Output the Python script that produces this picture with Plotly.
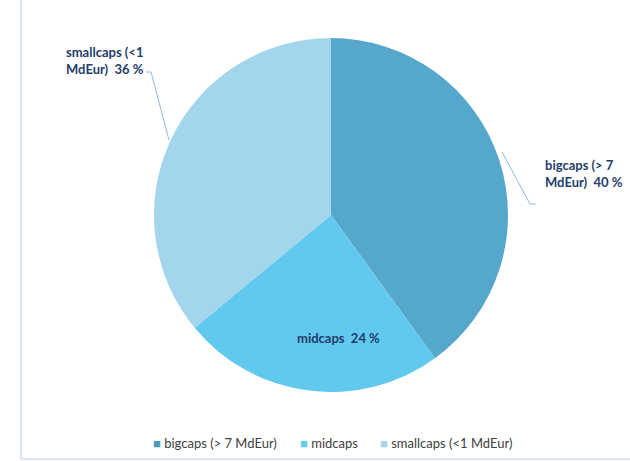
import plotly.graph_objects as go

labels = ["bigcaps (> 7 MdEur)", "midcaps", "smallcaps (<1 MdEur)"]
shares = [40, 24, 36]
colors = ["#55a8cb", "#62c9ee", "#a3d6ec"]
legend_colors = ["#4b99b8", "#5fd0f3", "#a7d7ec"]

W, H = 630, 461


def px(x):
    return x / W


def py(y):
    return 1 - y / H


fig = go.Figure()
fig.add_trace(go.Pie(
    labels=labels, values=shares, sort=False, direction="clockwise", rotation=0,
    marker=dict(colors=colors, line=dict(width=0)),
    textinfo="none", hoverinfo="label+percent", showlegend=False,
    domain=dict(x=[px(154), px(508)], y=[py(392), py(38)]),
))

label_font = dict(family="Lato, 'Open Sans', sans-serif", size=13, color="#1f3d6b")
notes = [
    ("<b>smallcaps (<1<br>MdEur)  %d %%</b>" % shares[2], 64, 60, "left"),
    ("<b>bigcaps (> 7<br>MdEur)  %d %%</b>" % shares[0], 543, 174, "left"),
    ("<b>midcaps  %d %%</b>" % shares[1], 338, 338, "center"),
]
for text, x, y, anchor in notes:
    fig.add_annotation(text=text, x=px(x), y=py(y), xref="paper", yref="paper",
                       xanchor=anchor, yanchor="middle", align="left",
                       showarrow=False, font=label_font)

# leader lines
leader = dict(color="#8db8e0", width=1)
fig.add_shape(type="path", xref="paper", yref="paper", line=leader,
              path=f"M {px(146)} {py(72)} L {px(151)} {py(72)} L {px(169)} {py(140)}")
fig.add_shape(type="path", xref="paper", yref="paper", line=leader,
              path=f"M {px(502)} {py(152)} L {px(530)} {py(204)} L {px(536)} {py(204)}")

# legend row
legend_font = dict(family="Lato, 'Open Sans', sans-serif", size=13, color="#404040")
legend_x = [151, 298, 378]
for name, col, x in zip(labels, legend_colors, legend_x):
    fig.add_annotation(text=f"<span style='color:{col}'>■</span> {name}",
                       x=px(x), y=py(443), xref="paper", yref="paper",
                       xanchor="left", yanchor="middle", showarrow=False, font=legend_font)

# chart area border (left and bottom)
border = dict(color="#dce6f2", width=2)
fig.add_shape(type="line", xref="paper", yref="paper", x0=px(21), x1=px(21), y0=py(459), y1=1, line=border)
fig.add_shape(type="line", xref="paper", yref="paper", x0=px(21), x1=1, y0=py(459), y1=py(459), line=border)

fig.update_layout(
    width=W, height=H, margin=dict(l=0, r=0, t=0, b=0),
    paper_bgcolor="white", plot_bgcolor="white",
)

fig.write_html("out.html", config={"displayModeBar": False},
               post_script="document.body.style.margin='0';")
